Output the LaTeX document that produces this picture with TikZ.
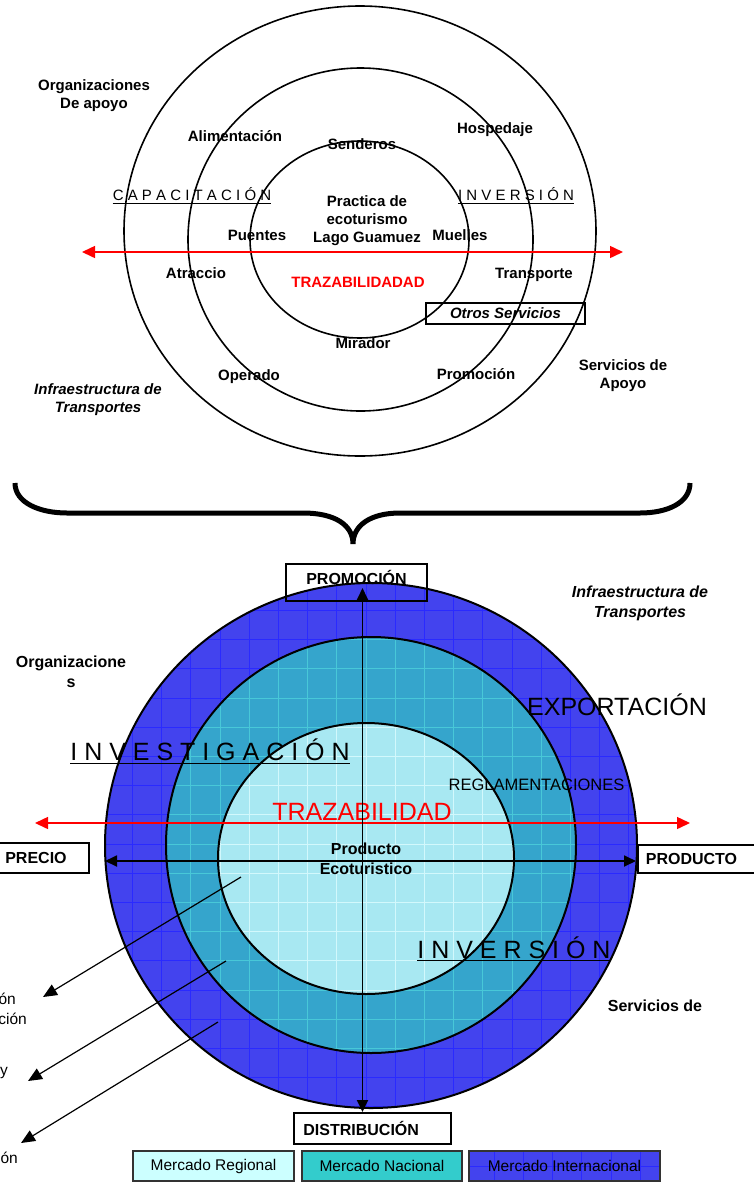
\documentclass[tikz,border=0pt]{standalone}
\usepackage{fontspec}
\setmainfont{Liberation Sans}
\usetikzlibrary{arrows.meta}
\definecolor{outerblue}{HTML}{4343EE}
\definecolor{outergrid}{HTML}{2A2AFF}
\definecolor{midteal}{HTML}{35A5CC}
\definecolor{midgrid}{HTML}{48C8D8}
\definecolor{innercyan}{HTML}{A8E8F2}
\definecolor{innergrid}{HTML}{D2F8FC}
\definecolor{legreg}{HTML}{CCFFFF}
\definecolor{legnac}{HTML}{33CCCC}
\definecolor{legedge}{HTML}{333333}
\newcommand\mkgrid[1]{%
  \foreach \i in {0,...,22} {\draw[#1] ({15.7+29.2*\i},570) -- ({15.7+29.2*\i},1120);}
  \foreach \j in {0,...,19} {\draw[#1] (95,{581.3+29.2*\j}) -- (650,{581.3+29.2*\j});}
}
\begin{document}
\begin{tikzpicture}[x=1pt,y=-1pt,
  fb/.style={font=\fontsize{15}{18}\selectfont\bfseries, align=center, inner sep=0pt},
  fbi/.style={font=\fontsize{15}{18}\selectfont\bfseries\itshape, align=center, inner sep=0pt},
  fB/.style={font=\fontsize{16}{20}\selectfont\bfseries, align=center, inner sep=0pt},
  fBi/.style={font=\fontsize{16}{20}\selectfont\bfseries\itshape, align=center, inner sep=0pt},
  fr/.style={font=\fontsize{15.5}{19}\selectfont, inner sep=0pt},
  spaced/.style={font=\fontsize{15}{18}\selectfont, inner sep=0pt, anchor=base},
  big/.style={font=\fontsize{25}{30}\selectfont, inner sep=0pt},
  circ/.style={line width=1.6pt},
  ring/.style={line width=2pt},
  redarr/.style={red, line width=1.5pt, {Triangle[length=13pt,width=12pt]}-{Triangle[length=13pt,width=12pt]}},
  axis/.style={line width=1.8pt, {Triangle[length=12pt,width=11pt]}-{Triangle[length=12pt,width=11pt]}},
  diag/.style={line width=1.2pt, -{Triangle[length=14pt,width=12pt]}},
  boxlab/.style={draw, line width=1.8pt, font=\fontsize{16}{20}\selectfont\bfseries, fill=none},
  ul/.style={line width=1.8pt},
  legbox/.style={draw=legedge, line width=1.6pt, minimum height=30pt, font=\fontsize{15.5}{19}\selectfont, inner sep=0pt}
]
\useasboundingbox (0,0) rectangle (754,1184);

% ---------------- top diagram ----------------
\draw[circ] (360,231) ellipse [x radius=236pt, y radius=225pt];
\draw[circ] (360.5,239.5) ellipse [x radius=172.5pt, y radius=171.5pt];
\draw[circ] (359.5,239.5) ellipse [x radius=109.5pt, y radius=98.5pt];

\coordinate (tl) at (82,252);
\coordinate (tr) at (623,252);
\draw[redarr] (tl) -- (tr);

\node[fb] (orgA) at (94,96) {Organizaciones\\De apoyo};
\node[fb] (alim) at (235,136) {Alimentación};
\node[fb] (send) at (362,144) {Senderos};
\node[fb] (hosp) at (495,130) {Hospedaje};
\node[spaced] (capa) at (192,200) {C A P A C I T A C I Ó N};
\draw[ul] ([yshift=-3.5pt]capa.base west) -- ([yshift=-3.5pt]capa.base east);
\node[spaced] (invT) at (516,200) {I N V E R S I Ó N};
\draw[ul] ([yshift=-3.5pt]invT.base west) -- ([yshift=-3.5pt]invT.base east);
\node[fb] (prac) at (367,221) {Practica de\\ecoturismo\\Lago Guamuez};
\node[fb] (puen) at (257,235) {Puentes};
\node[fb] (muel) at (460,235) {Muelles};
\node[fb, text=red] (trzT) at (358,282) {TRAZABILIDADAD};
\node[fb] (atra) at (196,273) {Atraccio};
\node[fb] (tran) at (534,275) {Transporte};
\node[fbi, draw, line width=1.6pt, minimum width=159pt, minimum height=21pt] (otros) at (505.5,313.5) {Otros Servicios};
\node[fb] (mira) at (363,343) {Mirador};
\node[fb] (oper) at (249,377) {Operado};
\node[fb] (prom) at (476,374) {Promoción};
\node[fb] (servA) at (623,376) {Servicios de\\Apoyo};
\node[fbi] (infA) at (98,400) {Infraestructura de\\Transportes};

% ---------------- brace ----------------
\draw[line width=5pt] (15,483) .. controls (15,503) and (40,513) .. (67,513)
  -- (303,513) .. controls (335,513) and (353,525) .. (353,544)
  .. controls (353,525) and (371,513) .. (400,513)
  -- (640,513) .. controls (667,513) and (690,503) .. (690,483);

% ---------------- bottom diagram ----------------
\begin{scope}
  \clip (371,845.5) ellipse [x radius=266pt, y radius=262.5pt];
  \fill[outerblue] (95,570) rectangle (650,1120);
  \mkgrid{outergrid, line width=1pt}
\end{scope}
\begin{scope}
  \clip (371,845) ellipse [x radius=205pt, y radius=208pt];
  \fill[midteal] (95,570) rectangle (650,1120);
  \mkgrid{midgrid, line width=1pt}
\end{scope}
\begin{scope}
  \clip (366,858.5) ellipse [x radius=148pt, y radius=135.5pt];
  \fill[innercyan] (95,570) rectangle (650,1120);
  \mkgrid{innergrid, line width=1pt}
\end{scope}
\draw[ring] (371,845.5) ellipse [x radius=266pt, y radius=262.5pt];
\draw[ring] (371,845) ellipse [x radius=205pt, y radius=208pt];
\draw[ring] (366,858.5) ellipse [x radius=148pt, y radius=135.5pt];

% texts inside
\node[big] (invest) at (210,760) [anchor=base] {I N V E S T I G A C I Ó N};
\draw[ul] ([yshift=-3.5pt]invest.base west) -- ([yshift=-3.5pt]invest.base east);
\node[font=\fontsize{16.5}{20}\selectfont, inner sep=0pt] (regl) at (536.5,785) {REGLAMENTACIONES};
\node[big] (expo) at (617,705) {EXPORTACIÓN};

% red arrow
\coordinate (bl) at (35,823);
\coordinate (br) at (690,823);
\draw[redarr] (bl) -- (br);
\node[big, text=red] (trzB) at (362,812) {TRAZABILIDAD};

% axes
\coordinate (axT) at (362.5,588);
\coordinate (axB) at (362.5,1112);
\coordinate (axL) at (105,861);
\coordinate (axR) at (636,861);
\draw[axis] (axT) -- (axB);
\draw[axis] (axL) -- (axR);

\node[fB] (prod) at (366,859) {Producto\\Ecoturistico};
\node[big] (invB) at (514,958) [anchor=base] {I N V E R S I Ó N};
\draw[ul] ([yshift=-2.5pt]invB.base west) -- ([yshift=-2.5pt]invB.base east);

% boxes
\node[boxlab, minimum width=141pt, minimum height=37pt, inner sep=0pt, text height=11.5pt, text depth=7pt] (bProm) at (356.5,582.5) {PROMOCIÓN};
\node[boxlab, text width=62pt, align=center, inner xsep=22pt, minimum height=30pt, inner ysep=0pt] (bPrec) at (36,858) {PRECIO};
\node[boxlab, text width=110pt, align=left, inner xsep=8pt, minimum height=28pt, inner ysep=0pt, anchor=west] (bProd) at (637,859) {PRODUCTO};
\node[boxlab, text width=138pt, align=left, inner xsep=9.5pt, minimum height=31pt, inner ysep=0pt, anchor=west] (bDist) at (293,1128.5) {DISTRIBUCIÓN};

% outside labels
\node[fB] (orgB) at (71,672) {Organizacione\\s};
\node[fBi] (infB) at (640,603) {Infraestructura de\\Transportes};
\node[fB] (servB) at (655,1006) {Servicios de};

% diagonal arrows and cut labels
\node[fr, anchor=east] (l1) at (16,999) {ón};
\node[fr, anchor=east] (l2) at (27,1019) {ción};
\node[fr, anchor=east] (l3) at (8,1073) {y};
\node[fr, anchor=east] (l4) at (18,1158) {ón};
\coordinate (d1s) at (241,877);  \coordinate (d1e) at (43,997);
\coordinate (d2s) at (226,961);  \coordinate (d2e) at (28,1081);
\coordinate (d3s) at (218,1022); \coordinate (d3e) at (21,1143);
\draw[diag] (d1s) -- (d1e);
\draw[diag] (d2s) -- (d2e);
\draw[diag] (d3s) -- (d3e);

% legend
\node[legbox, fill=legreg, minimum width=161pt] (lReg) at (213.5,1166) {Mercado Regional};
\node[legbox, fill=legnac, minimum width=160pt] (lNac) at (382,1166) {Mercado Nacional};
\begin{scope}
  \clip (469,1151) rectangle (660,1181);
  \fill[outerblue] (469,1151) rectangle (660,1181);
  \foreach \i in {0,...,7} {\draw[outergrid, line width=1pt] ({469+29.2*\i-4},1151) -- ({469+29.2*\i-4},1181);}
  \draw[outergrid, line width=1pt] (469,1166) -- (660,1166);
\end{scope}
\node[legbox, minimum width=191pt] (lInt) at (564.5,1166) {Mercado Internacional};
\end{tikzpicture}
\end{document}
